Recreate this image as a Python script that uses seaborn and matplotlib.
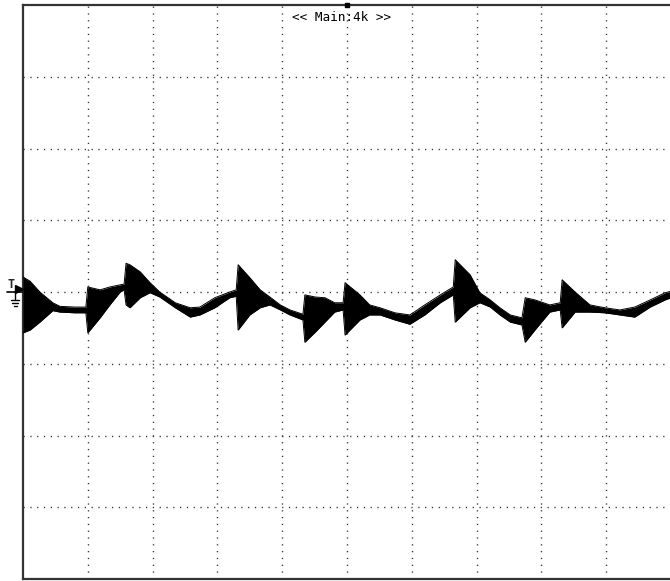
import numpy as np
import pandas as pd
import matplotlib
matplotlib.use("Agg")
import matplotlib.pyplot as plt
import matplotlib.transforms as mtransforms
import seaborn as sns

# scope trace envelope, in divisions
# time (div), upper edge of trace (div), lower edge of trace (div)
time_div = [0.00, 0.11, 0.26, 0.46, 0.57, 0.80, 0.97, 1.00, 1.19, 1.34,
            1.50, 1.56, 1.59, 1.65, 1.81, 1.96, 2.11, 2.35, 2.58, 2.73,
            2.96, 3.19, 3.29, 3.32, 3.50, 3.66, 3.81, 3.97, 4.12, 4.32,
            4.35, 4.51, 4.66, 4.81, 4.94, 4.97, 5.20, 5.35, 5.51, 5.74,
            5.97, 6.20, 6.44, 6.64, 6.67, 6.90, 7.05, 7.21, 7.36, 7.52,
            7.70, 7.75, 7.90, 8.13, 8.29, 8.32, 8.52, 8.75, 8.98, 9.21,
            9.44, 9.68, 9.91, 10.0]
upper_div = [0.21, 0.15, 0.00, -0.15, -0.20, -0.21, -0.21, 0.07, 0.03, 0.07,
             0.10, 0.11, 0.40, 0.38, 0.28, 0.13, 0.00, -0.15, -0.22, -0.21,
             -0.08, 0.00, 0.03, 0.38, 0.20, 0.03, -0.07, -0.18, -0.25, -0.31,
             -0.04, -0.07, -0.08, -0.15, -0.15, 0.13, -0.04, -0.18, -0.22, -0.29,
             -0.32, -0.18, -0.04, 0.07, 0.45, 0.24, -0.01, -0.11, -0.22, -0.32,
             -0.36, -0.08, -0.11, -0.18, -0.15, 0.17, 0.00, -0.18, -0.22, -0.25,
             -0.21, -0.11, -0.01, 0.01]
lower_div = [-0.57, -0.53, -0.42, -0.26, -0.28, -0.29, -0.29, -0.57, -0.36, -0.18,
             0.00, 0.03, -0.18, -0.22, -0.08, -0.01, -0.07, -0.22, -0.35, -0.32,
             -0.22, -0.08, -0.06, -0.53, -0.32, -0.22, -0.18, -0.25, -0.32, -0.39,
             -0.70, -0.56, -0.42, -0.28, -0.25, -0.60, -0.39, -0.32, -0.32, -0.39,
             -0.45, -0.32, -0.15, -0.04, -0.42, -0.22, -0.15, -0.21, -0.32, -0.42,
             -0.46, -0.70, -0.53, -0.28, -0.25, -0.50, -0.28, -0.28, -0.29, -0.32,
             -0.35, -0.21, -0.11, -0.08]

x_divs = 10
y_divs = 8
label_text = "<< Main:4k >>"

df = pd.DataFrame({"t": time_div, "hi": upper_div, "lo": lower_div})

sns.set_style("white")
plt.rcParams["lines.scale_dashes"] = False

fig = plt.figure(figsize=(6.70, 5.81), dpi=100)
ax = fig.add_axes([23 / 670, 2 / 581, 648 / 670, 574 / 581])

# dotted graticule
for gx in range(1, x_divs):
    ax.axvline(gx, color="#333333", lw=1.0, ls=(0, (0.9, 4.0)), zorder=1)
for gy in range(-y_divs // 2 + 1, y_divs // 2):
    ax.axhline(gy, color="#333333", lw=1.0, ls=(0, (0.9, 4.0)), zorder=1)

ax.fill_between(df["t"], df["lo"], df["hi"], color="black", lw=0, zorder=3)
sns.lineplot(data=df, x="t", y="hi", color="black", lw=0.7, ax=ax, zorder=4)
sns.lineplot(data=df, x="t", y="lo", color="black", lw=0.7, ax=ax, zorder=4)

ax.set_xlim(0, x_divs)
ax.set_ylim(-y_divs / 2, y_divs / 2)
ax.set_xticks([])
ax.set_yticks([])
ax.set_xlabel("")
ax.set_ylabel("")
for side in ["left", "top", "bottom"]:
    ax.spines[side].set_color("#333333")
    ax.spines[side].set_linewidth(1.6)
ax.spines["right"].set_visible(False)

ax.text(0.492, 0.99, label_text, transform=ax.transAxes, ha="center", va="top",
        fontsize=9.2, family="DejaVu Sans Mono", color="black")

# trigger position marker on top edge
ax.plot([5], [4], marker="s", ms=2.5, color="black", clip_on=False, zorder=5)

# trigger level / ground marker on the left
trans = mtransforms.blended_transform_factory(fig.transFigure, ax.transData)
fig.text(11 / 670, 0.02, "T", transform=trans, ha="center", va="bottom",
         fontsize=8.5, family="DejaVu Sans Mono", weight="bold")
fig.lines.append(plt.Line2D([7 / 670, 22 / 670], [0, 0], transform=trans,
                            color="black", lw=1.2))
fig.lines.append(plt.Line2D([15 / 670, 15 / 670], [0, -0.1], transform=trans,
                            color="black", lw=1.0))
for w, yy in [(4, -0.11), (3, -0.15), (1.5, -0.19)]:
    fig.lines.append(plt.Line2D([(15 - w) / 670, (15 + w) / 670], [yy, yy],
                                transform=trans, color="black", lw=1.0))
ax.plot([0.0], [0.04], marker=">", ms=6, color="black", clip_on=False, zorder=5,
        transform=ax.transData + mtransforms.ScaledTranslation(-4 / 100, 0, fig.dpi_scale_trans))

fig.savefig("out.png", dpi=100)
